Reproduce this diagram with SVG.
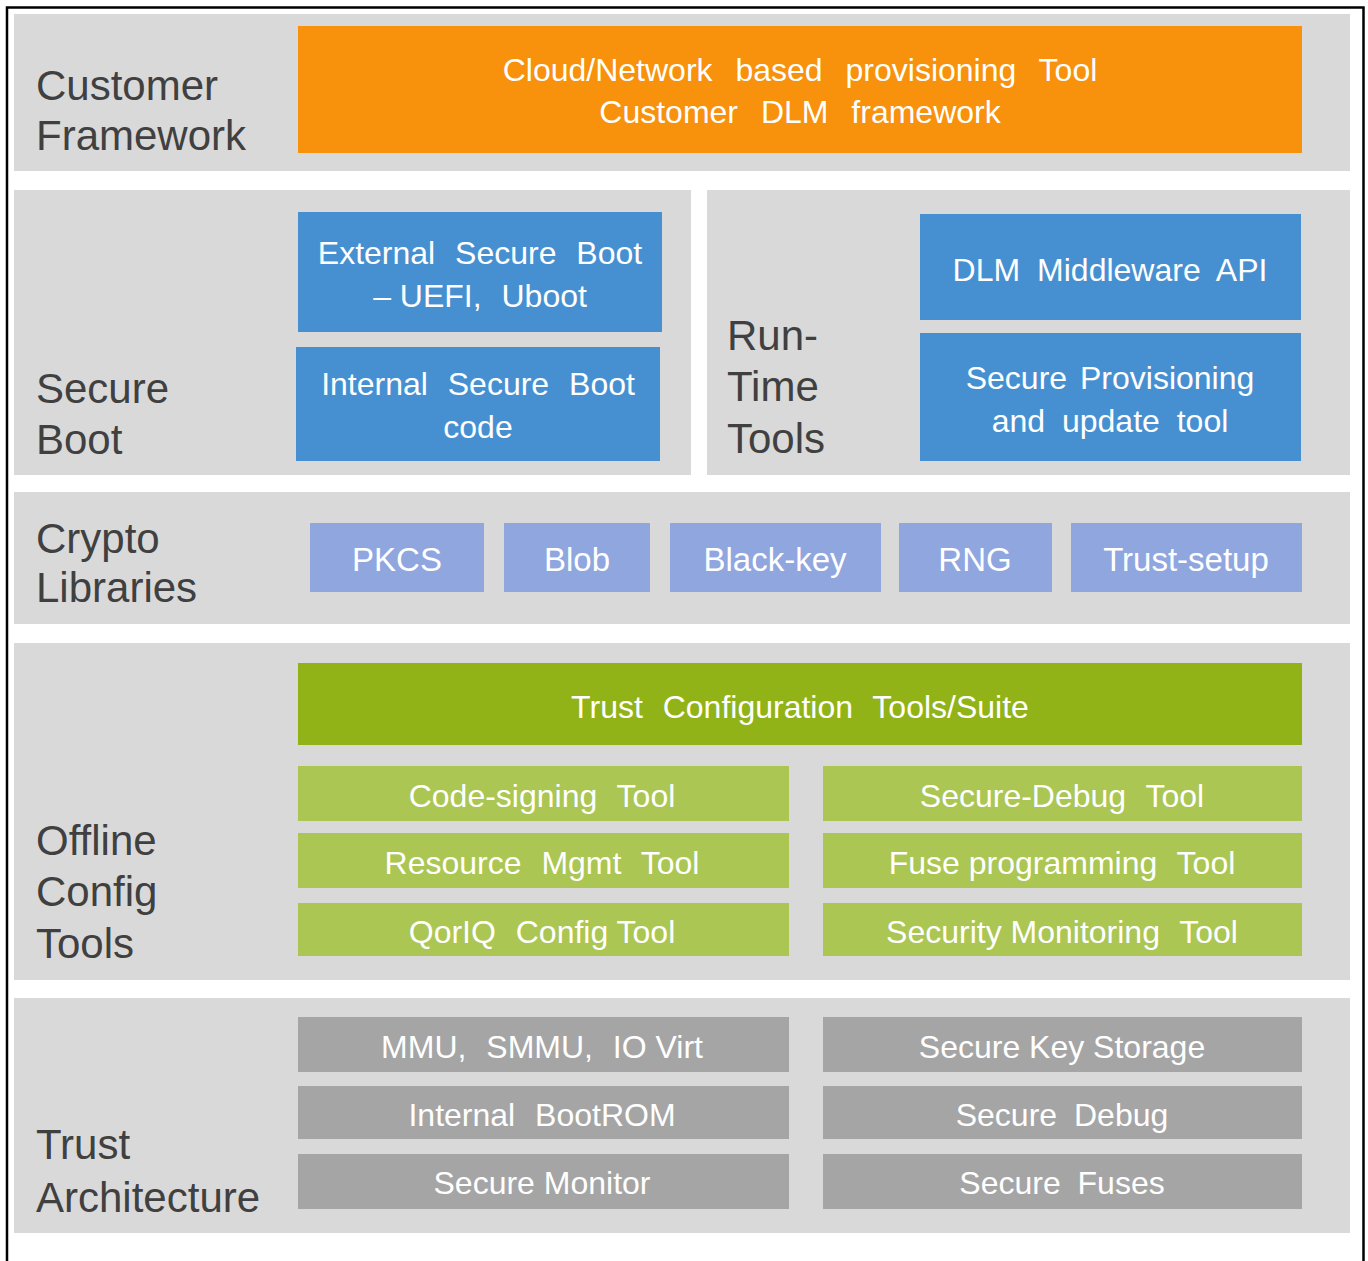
<svg xmlns="http://www.w3.org/2000/svg" width="1368" height="1261" viewBox="0 0 1368 1261">
<style>
.panel{fill:#d9d9d9}
.lbl{font-family:"Liberation Sans",Arial,sans-serif;font-size:42px;fill:#404040}
.bt{font-family:"Liberation Sans",Arial,sans-serif;font-size:32px;fill:#ffffff;text-anchor:middle;word-spacing:11px}
.n{word-spacing:0}
.ct{font-size:33px;word-spacing:0}
.orange{fill:#f8910c}
.blue{fill:#4690d1}
.crypto{fill:#90a6df}
.dgreen{fill:#92b317}
.lgreen{fill:#abc652}
.gray{fill:#a5a5a5}
</style>
<rect width="1368" height="1261" fill="#ffffff"/>
<path d="M7,1261 V7.5 H1363.5 V1261" fill="none" stroke="#000000" stroke-width="2.5"/>

<g id="panels">
<rect class="panel" x="14" y="14" width="1336" height="157"/>
<rect class="panel" x="14" y="190" width="677" height="285"/>
<rect class="panel" x="707" y="190" width="643" height="285"/>
<rect class="panel" x="14" y="492" width="1336" height="132"/>
<rect class="panel" x="14" y="643" width="1336" height="337"/>
<rect class="panel" x="14" y="998" width="1336" height="235"/>
</g>

<g id="labels">
<text class="lbl" x="36" y="100">Customer</text>
<text class="lbl" x="36" y="150">Framework</text>
<text class="lbl" x="36" y="403">Secure</text>
<text class="lbl" x="36" y="454">Boot</text>
<text class="lbl" x="727" y="350">Run-</text>
<text class="lbl" x="727" y="401">Time</text>
<text class="lbl" x="727" y="453">Tools</text>
<text class="lbl" x="36" y="553">Crypto</text>
<text class="lbl" x="36" y="602">Libraries</text>
<text class="lbl" x="36" y="855">Offline</text>
<text class="lbl" x="36" y="906">Config</text>
<text class="lbl" x="36" y="958">Tools</text>
<text class="lbl" x="36" y="1159">Trust</text>
<text class="lbl" x="36" y="1212">Architecture</text>
</g>

<g id="cloud-provisioning">
<rect class="orange" x="298" y="26" width="1004" height="127"/>
<text class="bt" x="800" y="81" style="word-spacing:14px">Cloud/Network based provisioning Tool</text>
<text class="bt" x="800" y="123" style="word-spacing:14px">Customer DLM framework</text>
</g>

<g id="external-secure-boot">
<rect class="blue" x="298" y="212" width="364" height="120"/>
<text class="bt" x="480" y="264">External Secure Boot</text>
<text class="bt n" x="480" y="307">– UEFI,<tspan dx="11"> Uboot</tspan></text>
</g>
<g id="internal-secure-boot">
<rect class="blue" x="296" y="347" width="364" height="114"/>
<text class="bt" x="478" y="395">Internal Secure Boot</text>
<text class="bt" x="478" y="438">code</text>
</g>
<g id="dlm-middleware">
<rect class="blue" x="920" y="214" width="381" height="106"/>
<text class="bt" x="1110" y="281" style="word-spacing:8px">DLM Middleware API</text>
</g>
<g id="secure-provisioning">
<rect class="blue" x="920" y="333" width="381" height="128"/>
<text class="bt" x="1110" y="389" style="word-spacing:4px">Secure Provisioning</text>
<text class="bt" x="1110" y="432" style="word-spacing:8px">and update tool</text>
</g>

<g id="pkcs"><rect class="crypto" x="310" y="523" width="174" height="69"/><text class="bt ct" x="397" y="571">PKCS</text></g>
<g id="blob"><rect class="crypto" x="504" y="523" width="146" height="69"/><text class="bt ct" x="577" y="571">Blob</text></g>
<g id="black-key"><rect class="crypto" x="670" y="523" width="211" height="69"/><text class="bt ct" x="775" y="571">Black-key</text></g>
<g id="rng"><rect class="crypto" x="899" y="523" width="153" height="69"/><text class="bt ct" x="975" y="571">RNG</text></g>
<g id="trust-setup"><rect class="crypto" x="1071" y="523" width="231" height="69"/><text class="bt ct" x="1186" y="571">Trust-setup</text></g>

<g id="trust-config-suite"><rect class="dgreen" x="298" y="663" width="1004" height="82"/><text class="bt" x="800" y="718">Trust Configuration Tools/Suite</text></g>
<g id="code-signing"><rect class="lgreen" x="298" y="766" width="491" height="55"/><text class="bt" x="542" y="807">Code-signing Tool</text></g>
<g id="resource-mgmt"><rect class="lgreen" x="298" y="833" width="491" height="55"/><text class="bt" x="542" y="874">Resource Mgmt Tool</text></g>
<g id="qoriq-config"><rect class="lgreen" x="298" y="903" width="491" height="53"/><text class="bt n" x="542" y="943">QorIQ<tspan dx="11"> Config Tool</tspan></text></g>
<g id="secure-debug-tool"><rect class="lgreen" x="823" y="766" width="479" height="55"/><text class="bt" x="1062" y="807">Secure-Debug Tool</text></g>
<g id="fuse-programming"><rect class="lgreen" x="823" y="833" width="479" height="55"/><text class="bt n" x="1062" y="874">Fuse programming<tspan dx="11"> Tool</tspan></text></g>
<g id="security-monitoring"><rect class="lgreen" x="823" y="903" width="479" height="53"/><text class="bt n" x="1062" y="943">Security Monitoring<tspan dx="11"> Tool</tspan></text></g>

<g id="mmu"><rect class="gray" x="298" y="1017" width="491" height="55"/><text class="bt n" x="542" y="1058">MMU,<tspan dx="11"> SMMU,</tspan><tspan dx="11"> IO Virt</tspan></text></g>
<g id="bootrom"><rect class="gray" x="298" y="1086" width="491" height="53"/><text class="bt" x="542" y="1126">Internal BootROM</text></g>
<g id="secure-monitor"><rect class="gray" x="298" y="1154" width="491" height="55"/><text class="bt n" x="542" y="1194">Secure Monitor</text></g>
<g id="secure-key-storage"><rect class="gray" x="823" y="1017" width="479" height="55"/><text class="bt n" x="1062" y="1058">Secure Key Storage</text></g>
<g id="secure-debug"><rect class="gray" x="823" y="1086" width="479" height="53"/><text class="bt" x="1062" y="1126" style="word-spacing:8px">Secure Debug</text></g>
<g id="secure-fuses"><rect class="gray" x="823" y="1154" width="479" height="55"/><text class="bt" x="1062" y="1194" style="word-spacing:8px">Secure Fuses</text></g>

<g id="connectors"/>
</svg>
